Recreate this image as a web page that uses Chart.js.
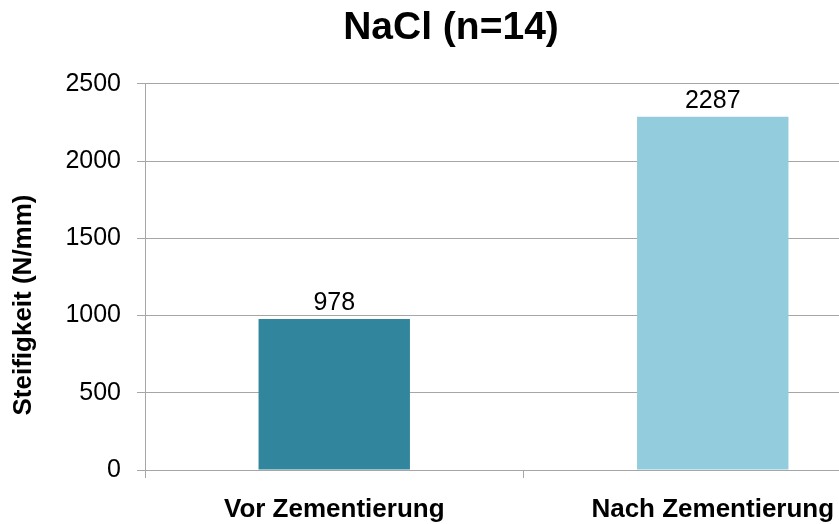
<!DOCTYPE html>
<html>
<head>
<meta charset="utf-8">
<title>NaCl (n=14)</title>
<script src="https://cdn.jsdelivr.net/npm/chart.js@4.4.0/dist/chart.umd.min.js"></script>
<style>
	body {
		margin: 0;
		overflow: hidden;
		background: #ffffff;
	}
	#wrap {
		position: relative;
		width: 904px;
		height: 524px;
	}
</style>
</head>
<body>
<div id="wrap"><canvas id="stiffChart"></canvas></div>
<script>
// Data
const categories = ["Vor Zementierung", "Nach Zementierung"];
const stiffness = [978, 2287];
const barColors = ["#31859C", "#93CDDD"];
const yTicks = [0, 500, 1000, 1500, 2000, 2500];

const chartTitle = "NaCl (n=14)";
const yTitle = "Steifigkeit (N/mm)";
const fontName = "'Liberation Sans', Arial, sans-serif";
const gridGray = "#A6A6A6";

// Value labels above the bars
const valueLabels = {
	id: "valueLabels",
	afterDatasetsDraw(chart) {
		const ctx = chart.ctx;
		const meta = chart.getDatasetMeta(0);
		ctx.save();
		ctx.font = "25px " + fontName;
		ctx.fillStyle = "#000000";
		ctx.textAlign = "center";
		ctx.textBaseline = "alphabetic";
		meta.data.forEach(function (bar, i) {
			ctx.fillText(stiffness[i], bar.x, bar.y - 9);
		});
		ctx.restore();
	},
};

// Y axis title, placed a bit lower than the middle like the original
const yAxisTitle = {
	id: "yAxisTitle",
	afterDraw(chart) {
		const ctx = chart.ctx;
		ctx.save();
		ctx.translate(24, 305);
		ctx.rotate(-Math.PI / 2);
		ctx.font = "bold 26px " + fontName;
		ctx.fillStyle = "#000000";
		ctx.textAlign = "center";
		ctx.textBaseline = "middle";
		ctx.fillText(yTitle, 0, 0);
		ctx.restore();
	},
};

new Chart(document.getElementById("stiffChart").getContext("2d"), {
	type: "bar",
	data: {
		labels: categories,
		datasets: [
			{
				data: stiffness,
				backgroundColor: barColors,
				borderWidth: 0,
				barPercentage: 0.4,
				categoryPercentage: 1,
			},
		],
	},
	options: {
		responsive: true,
		maintainAspectRatio: false,
		animation: false,
		layout: {
			padding: { left: 0, right: 2, top: 0, bottom: 0 },
		},
		plugins: {
			legend: { display: false },
			tooltip: { enabled: false },
			title: {
				display: true,
				text: chartTitle,
				color: "#000000",
				font: { family: fontName, size: 39, weight: "bold" },
				padding: { top: 5, bottom: 32 },
			},
		},
		scales: {
			x: {
				grid: {
					display: true,
					drawOnChartArea: false,
					color: gridGray,
					tickLength: 8,
				},
				border: { color: gridGray },
				ticks: {
					color: "#000000",
					font: { family: fontName, size: 26, weight: "bold" },
					padding: 16,
					maxRotation: 0,
				},
				afterFit(scale) {
					scale.height = 54;
				},
			},
			y: {
				min: 0,
				max: 2500,
				afterBuildTicks(scale) {
					scale.ticks = yTicks.map(function (v) {
						return { value: v };
					});
				},
				grid: {
					color: gridGray,
					tickLength: 8,
				},
				border: { color: gridGray },
				ticks: {
					color: "#000000",
					font: { family: fontName, size: 25 },
					padding: 16,
					callback: function (value) {
						return String(value);
					},
				},
				afterFit(scale) {
					scale.width = 145;
				},
			},
		},
	},
	plugins: [valueLabels, yAxisTitle],
});
</script>
</body>
</html>
